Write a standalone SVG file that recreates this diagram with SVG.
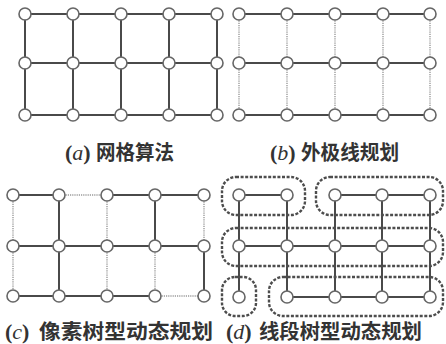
<svg xmlns="http://www.w3.org/2000/svg" width="446" height="344" viewBox="0 0 446 344">
<style>
.s{stroke:#4a4a4a;stroke-width:2;fill:none}
.d{stroke:#9a9a9a;stroke-width:1.4;stroke-dasharray:1.2 1;fill:none}
.n{fill:#fff;stroke:#666;stroke-width:1.6}
.loop{fill:none;stroke:#4d4d4d;stroke-width:2.4;stroke-dasharray:3 1.6}
.lt{font-family:"Liberation Serif",serif;font-size:22px;font-weight:bold;fill:#333}
.cn{font-family:"Noto Sans CJK SC","Noto Sans",sans-serif;font-size:20px;font-weight:bold;fill:#333}
</style>
<rect width="446" height="344" fill="#fff"/>
<g id="connectors">
<g id="edges-a">
<line class="s" x1="25" y1="14" x2="73" y2="14"/><line class="s" x1="73" y1="14" x2="121" y2="14"/><line class="s" x1="121" y1="14" x2="169" y2="14"/><line class="s" x1="169" y1="14" x2="217" y2="14"/>
<line class="s" x1="25" y1="63" x2="73" y2="63"/><line class="s" x1="73" y1="63" x2="121" y2="63"/><line class="s" x1="121" y1="63" x2="169" y2="63"/><line class="s" x1="169" y1="63" x2="217" y2="63"/>
<line class="s" x1="25" y1="115" x2="73" y2="115"/><line class="s" x1="73" y1="115" x2="121" y2="115"/><line class="s" x1="121" y1="115" x2="169" y2="115"/><line class="s" x1="169" y1="115" x2="217" y2="115"/>
<line class="s" x1="25" y1="14" x2="25" y2="63"/><line class="s" x1="73" y1="14" x2="73" y2="63"/><line class="s" x1="121" y1="14" x2="121" y2="63"/><line class="s" x1="169" y1="14" x2="169" y2="63"/><line class="s" x1="217" y1="14" x2="217" y2="63"/>
<line class="s" x1="25" y1="63" x2="25" y2="115"/><line class="s" x1="73" y1="63" x2="73" y2="115"/><line class="s" x1="121" y1="63" x2="121" y2="115"/><line class="s" x1="169" y1="63" x2="169" y2="115"/><line class="s" x1="217" y1="63" x2="217" y2="115"/>
</g>
<g id="edges-b">
<line class="s" x1="239" y1="14" x2="287" y2="14"/><line class="s" x1="287" y1="14" x2="335" y2="14"/><line class="s" x1="335" y1="14" x2="383" y2="14"/><line class="s" x1="383" y1="14" x2="430" y2="14"/>
<line class="s" x1="239" y1="63" x2="287" y2="63"/><line class="s" x1="287" y1="63" x2="335" y2="63"/><line class="s" x1="335" y1="63" x2="383" y2="63"/><line class="s" x1="383" y1="63" x2="430" y2="63"/>
<line class="s" x1="239" y1="115" x2="287" y2="115"/><line class="s" x1="287" y1="115" x2="335" y2="115"/><line class="s" x1="335" y1="115" x2="383" y2="115"/><line class="s" x1="383" y1="115" x2="430" y2="115"/>
<line class="d" x1="239" y1="14" x2="239" y2="63"/><line class="d" x1="287" y1="14" x2="287" y2="63"/><line class="d" x1="335" y1="14" x2="335" y2="63"/><line class="d" x1="383" y1="14" x2="383" y2="63"/><line class="d" x1="430" y1="14" x2="430" y2="63"/>
<line class="d" x1="239" y1="63" x2="239" y2="115"/><line class="d" x1="287" y1="63" x2="287" y2="115"/><line class="d" x1="335" y1="63" x2="335" y2="115"/><line class="d" x1="383" y1="63" x2="383" y2="115"/><line class="d" x1="430" y1="63" x2="430" y2="115"/>
</g>
<g id="edges-c">
<line class="s" x1="13" y1="195" x2="59" y2="195"/><line class="d" x1="59" y1="195" x2="107" y2="195"/><line class="s" x1="107" y1="195" x2="155" y2="195"/><line class="s" x1="155" y1="195" x2="204" y2="195"/>
<line class="s" x1="13" y1="246" x2="59" y2="246"/><line class="s" x1="59" y1="246" x2="107" y2="246"/><line class="s" x1="107" y1="246" x2="155" y2="246"/><line class="s" x1="155" y1="246" x2="204" y2="246"/>
<line class="s" x1="13" y1="296" x2="59" y2="296"/><line class="s" x1="59" y1="296" x2="107" y2="296"/><line class="s" x1="107" y1="296" x2="155" y2="296"/><line class="d" x1="155" y1="296" x2="204" y2="296"/>
<line class="d" x1="13" y1="195" x2="13" y2="246"/><line class="s" x1="59" y1="195" x2="59" y2="246"/><line class="d" x1="107" y1="195" x2="107" y2="246"/><line class="s" x1="155" y1="195" x2="155" y2="246"/><line class="d" x1="204" y1="195" x2="204" y2="246"/>
<line class="d" x1="13" y1="246" x2="13" y2="296"/><line class="s" x1="59" y1="246" x2="59" y2="296"/><line class="d" x1="107" y1="246" x2="107" y2="296"/><line class="d" x1="155" y1="246" x2="155" y2="296"/><line class="s" x1="204" y1="246" x2="204" y2="296"/>
</g>
<g id="edges-d">
<line class="s" x1="239" y1="195" x2="287" y2="195"/><line class="s" x1="335" y1="195" x2="382" y2="195"/><line class="s" x1="382" y1="195" x2="430" y2="195"/>
<line class="s" x1="239" y1="246" x2="287" y2="246"/><line class="s" x1="287" y1="246" x2="335" y2="246"/><line class="s" x1="335" y1="246" x2="382" y2="246"/><line class="s" x1="382" y1="246" x2="430" y2="246"/>
<line class="s" x1="287" y1="297" x2="335" y2="297"/><line class="s" x1="335" y1="297" x2="382" y2="297"/><line class="s" x1="382" y1="297" x2="430" y2="297"/>
<line class="s" x1="239" y1="195" x2="239" y2="246"/><line class="s" x1="287" y1="195" x2="287" y2="246"/><line class="s" x1="335" y1="195" x2="335" y2="246"/><line class="s" x1="382" y1="195" x2="382" y2="246"/><line class="s" x1="430" y1="195" x2="430" y2="246"/>
<line class="s" x1="239" y1="246" x2="239" y2="297"/><line class="s" x1="287" y1="246" x2="287" y2="297"/><line class="s" x1="335" y1="246" x2="335" y2="297"/><line class="s" x1="382" y1="246" x2="382" y2="297"/><line class="s" x1="430" y1="246" x2="430" y2="297"/>
</g>
</g>
<g id="segments-d">
<rect class="loop" x="222" y="177" width="83" height="38" rx="14"/>
<rect class="loop" x="316" y="177" width="127" height="38" rx="14"/>
<rect class="loop" x="222" y="228" width="221" height="38" rx="14"/>
<rect class="loop" x="222" y="277" width="34" height="39" rx="13"/>
<rect class="loop" x="269" y="277" width="174" height="39" rx="14"/>
</g>
<g id="nodes-a">
<g id="a11"><circle class="n" cx="25" cy="14" r="6"/></g><g id="a12"><circle class="n" cx="73" cy="14" r="6"/></g><g id="a13"><circle class="n" cx="121" cy="14" r="6"/></g><g id="a14"><circle class="n" cx="169" cy="14" r="6"/></g><g id="a15"><circle class="n" cx="217" cy="14" r="6"/></g>
<g id="a21"><circle class="n" cx="25" cy="63" r="6"/></g><g id="a22"><circle class="n" cx="73" cy="63" r="6"/></g><g id="a23"><circle class="n" cx="121" cy="63" r="6"/></g><g id="a24"><circle class="n" cx="169" cy="63" r="6"/></g><g id="a25"><circle class="n" cx="217" cy="63" r="6"/></g>
<g id="a31"><circle class="n" cx="25" cy="115" r="6"/></g><g id="a32"><circle class="n" cx="73" cy="115" r="6"/></g><g id="a33"><circle class="n" cx="121" cy="115" r="6"/></g><g id="a34"><circle class="n" cx="169" cy="115" r="6"/></g><g id="a35"><circle class="n" cx="217" cy="115" r="6"/></g>
</g>
<g id="nodes-b">
<g id="b11"><circle class="n" cx="239" cy="14" r="6"/></g><g id="b12"><circle class="n" cx="287" cy="14" r="6"/></g><g id="b13"><circle class="n" cx="335" cy="14" r="6"/></g><g id="b14"><circle class="n" cx="383" cy="14" r="6"/></g><g id="b15"><circle class="n" cx="430" cy="14" r="6"/></g>
<g id="b21"><circle class="n" cx="239" cy="63" r="6"/></g><g id="b22"><circle class="n" cx="287" cy="63" r="6"/></g><g id="b23"><circle class="n" cx="335" cy="63" r="6"/></g><g id="b24"><circle class="n" cx="383" cy="63" r="6"/></g><g id="b25"><circle class="n" cx="430" cy="63" r="6"/></g>
<g id="b31"><circle class="n" cx="239" cy="115" r="6"/></g><g id="b32"><circle class="n" cx="287" cy="115" r="6"/></g><g id="b33"><circle class="n" cx="335" cy="115" r="6"/></g><g id="b34"><circle class="n" cx="383" cy="115" r="6"/></g><g id="b35"><circle class="n" cx="430" cy="115" r="6"/></g>
</g>
<g id="nodes-c">
<g id="c11"><circle class="n" cx="13" cy="195" r="6"/></g><g id="c12"><circle class="n" cx="59" cy="195" r="6"/></g><g id="c13"><circle class="n" cx="107" cy="195" r="6"/></g><g id="c14"><circle class="n" cx="155" cy="195" r="6"/></g><g id="c15"><circle class="n" cx="204" cy="195" r="6"/></g>
<g id="c21"><circle class="n" cx="13" cy="246" r="6"/></g><g id="c22"><circle class="n" cx="59" cy="246" r="6"/></g><g id="c23"><circle class="n" cx="107" cy="246" r="6"/></g><g id="c24"><circle class="n" cx="155" cy="246" r="6"/></g><g id="c25"><circle class="n" cx="204" cy="246" r="6"/></g>
<g id="c31"><circle class="n" cx="13" cy="296" r="6"/></g><g id="c32"><circle class="n" cx="59" cy="296" r="6"/></g><g id="c33"><circle class="n" cx="107" cy="296" r="6"/></g><g id="c34"><circle class="n" cx="155" cy="296" r="6"/></g><g id="c35"><circle class="n" cx="204" cy="296" r="6"/></g>
</g>
<g id="nodes-d">
<g id="d11"><circle class="n" cx="239" cy="195" r="6"/></g><g id="d12"><circle class="n" cx="287" cy="195" r="6"/></g><g id="d13"><circle class="n" cx="335" cy="195" r="6"/></g><g id="d14"><circle class="n" cx="382" cy="195" r="6"/></g><g id="d15"><circle class="n" cx="430" cy="195" r="6"/></g>
<g id="d21"><circle class="n" cx="239" cy="246" r="6"/></g><g id="d22"><circle class="n" cx="287" cy="246" r="6"/></g><g id="d23"><circle class="n" cx="335" cy="246" r="6"/></g><g id="d24"><circle class="n" cx="382" cy="246" r="6"/></g><g id="d25"><circle class="n" cx="430" cy="246" r="6"/></g>
<g id="d31"><circle class="n" cx="239" cy="297" r="6"/></g><g id="d32"><circle class="n" cx="287" cy="297" r="6"/></g><g id="d33"><circle class="n" cx="335" cy="297" r="6"/></g><g id="d34"><circle class="n" cx="382" cy="297" r="6"/></g><g id="d35"><circle class="n" cx="430" cy="297" r="6"/></g>
</g>
<g id="captions">
<text class="lt" x="65" y="160">(<tspan font-style="italic" font-weight="normal">a</tspan>)</text>
<text class="cn" x="96" y="160" textLength="78" lengthAdjust="spacingAndGlyphs">网格算法</text>
<text class="lt" x="270" y="160">(<tspan font-style="italic" font-weight="normal">b</tspan>)</text>
<text class="cn" x="301" y="160" textLength="98" lengthAdjust="spacingAndGlyphs">外极线规划</text>
<text class="lt" x="5" y="339">(<tspan font-style="italic" font-weight="normal">c</tspan>)</text>
<text class="cn" x="39" y="339" textLength="174" lengthAdjust="spacingAndGlyphs">像素树型动态规划</text>
<text class="lt" x="226" y="339">(<tspan font-style="italic" font-weight="normal">d</tspan>)</text>
<text class="cn" x="259" y="339" textLength="163" lengthAdjust="spacingAndGlyphs">线段树型动态规划</text>
</g>
</svg>
